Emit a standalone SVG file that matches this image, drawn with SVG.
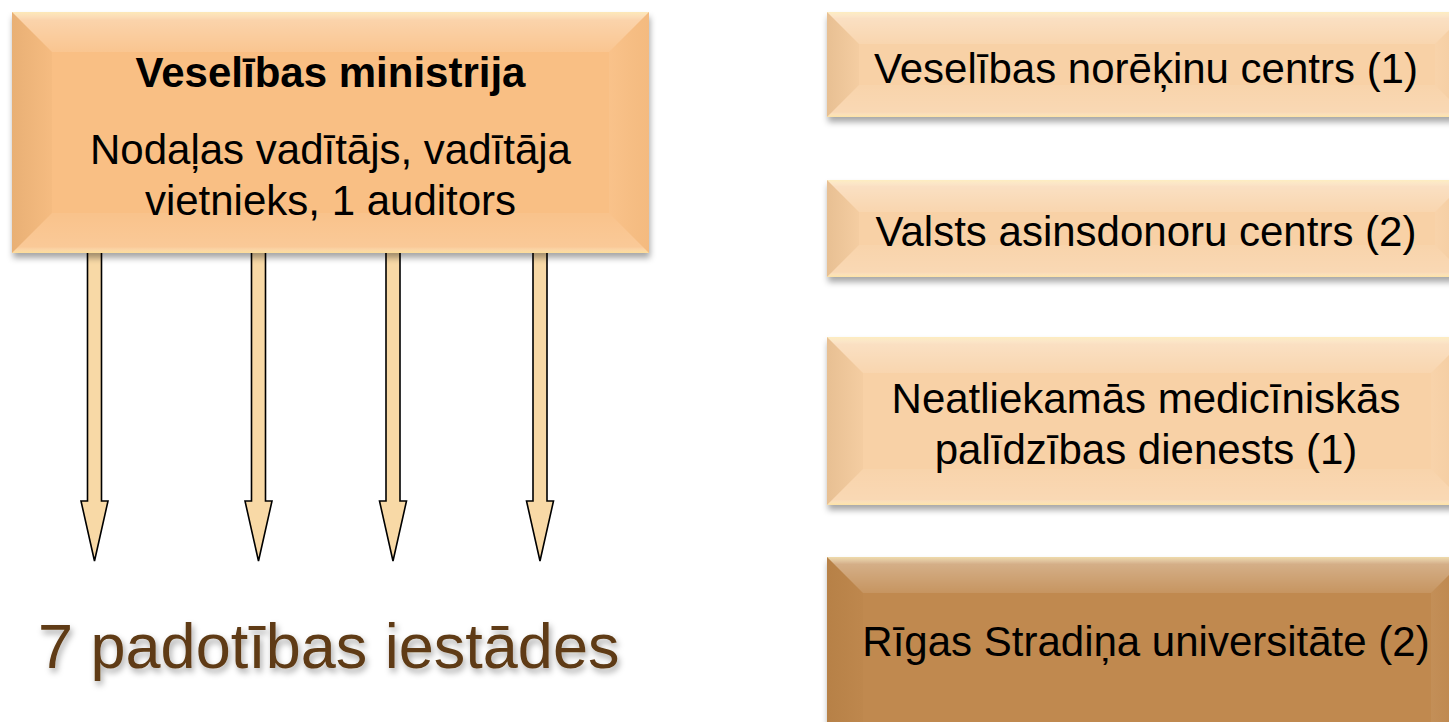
<svg xmlns="http://www.w3.org/2000/svg" width="1449" height="722" viewBox="0 0 1449 722">
<defs>
<filter id="sh" x="-10%" y="-10%" width="120%" height="130%">
<feDropShadow dx="1" dy="5" stdDeviation="3" flood-color="#000" flood-opacity="0.35"/>
</filter>
<filter id="tsh" x="-5%" y="-20%" width="110%" height="150%">
<feDropShadow dx="2" dy="4" stdDeviation="3" flood-color="#000" flood-opacity="0.35"/>
</filter>
<linearGradient id="gTop" x1="0" y1="0" x2="0" y2="1">
<stop offset="0" stop-color="#fff6c8" stop-opacity="0.75"/>
<stop offset="0.2" stop-color="#fff" stop-opacity="0.32"/>
<stop offset="1" stop-color="#fff" stop-opacity="0.1"/>
</linearGradient>
<linearGradient id="gLeft" x1="0" y1="0" x2="1" y2="0">
<stop offset="0" stop-color="#7a4a10" stop-opacity="0.13"/>
<stop offset="1" stop-color="#7a4a10" stop-opacity="0.03"/>
</linearGradient>
<linearGradient id="gRight" x1="0" y1="0" x2="1" y2="0">
<stop offset="0" stop-color="#fff" stop-opacity="0.05"/>
<stop offset="1" stop-color="#7a4a10" stop-opacity="0.04"/>
</linearGradient>
<linearGradient id="gBot" x1="0" y1="0" x2="0" y2="1">
<stop offset="0" stop-color="#fff" stop-opacity="0.06"/>
<stop offset="0.85" stop-color="#fff" stop-opacity="0.16"/>
<stop offset="1" stop-color="#ffeaa0" stop-opacity="0.7"/>
</linearGradient>
</defs>
<style>
.t{font-family:"Liberation Sans",Arial,sans-serif;font-size:42px;fill:#000;text-anchor:middle}
.b{font-weight:bold}
.arrow{fill:#F8D9A6;stroke:#000;stroke-width:1.6;stroke-linejoin:miter}
.top{fill:url(#gTop)}
.left{fill:url(#gLeft)}
.right{fill:url(#gRight)}
.bot{fill:url(#gBot)}
.big{font-family:"Liberation Sans",Arial,sans-serif;font-size:63px;fill:#5E3B14}
</style>

<g id="connectors">
<polygon class="arrow" points="87.5,250 101.5,250 101.5,501 108,501 94.5,561 81,501 87.5,501"/>
<polygon class="arrow" points="251.5,250 265.5,250 265.5,501 272,501 258.5,561 245,501 251.5,501"/>
<polygon class="arrow" points="386,250 400,250 400,501 406.5,501 393,561 379.5,501 386,501"/>
<polygon class="arrow" points="533,250 547,250 547,501 553.5,501 540,561 526.5,501 533,501"/>
</g>

<g id="ministrija">
<rect x="12" y="12" width="637" height="241" fill="#F9BF84" filter="url(#sh)"/>
<polygon class="top" points="12,12 649,12 609,52 52,52"/>
<polygon class="left" points="12,12 52,52 52,213 12,253"/>
<polygon class="bot" points="12,253 52,213 609,213 649,253"/>
<polygon class="right" points="649,12 649,253 609,213 609,52"/>
<text class="t b" x="330.5" y="87">Veselības ministrija</text>
<text class="t" x="330.5" y="164">Nodaļas vadītājs, vadītāja</text>
<text class="t" x="330.5" y="215">vietnieks, 1 auditors</text>
</g>

<g id="padotibas">
<text class="big" x="38" y="668" filter="url(#tsh)">7 padotības iestādes</text>
</g>

<g id="vnc">
<rect x="827" y="12" width="640" height="105" fill="#F8D1A6" filter="url(#sh)"/>
<polygon class="top" points="827,12 1467,12 1435,44 859,44"/>
<polygon class="left" points="827,12 859,44 859,85 827,117"/>
<polygon class="bot" points="827,117 859,85 1435,85 1467,117"/>
<polygon class="right" points="1467,12 1467,117 1435,85 1435,44"/>
<text class="t" x="1146" y="83">Veselības norēķinu centrs (1)</text>
</g>

<g id="vadc">
<rect x="827" y="180" width="640" height="97" fill="#F8D1A6" filter="url(#sh)"/>
<polygon class="top" points="827,180 1467,180 1435,212 859,212"/>
<polygon class="left" points="827,180 859,212 859,245 827,277"/>
<polygon class="bot" points="827,277 859,245 1435,245 1467,277"/>
<polygon class="right" points="1467,180 1467,277 1435,245 1435,212"/>
<text class="t" x="1146" y="246">Valsts asinsdonoru centrs (2)</text>
</g>

<g id="nmpd">
<rect x="827" y="337" width="640" height="168" fill="#F8D1A6" filter="url(#sh)"/>
<polygon class="top" points="827,337 1467,337 1431,373 863,373"/>
<polygon class="left" points="827,337 863,373 863,469 827,505"/>
<polygon class="bot" points="827,505 863,469 1431,469 1467,505"/>
<polygon class="right" points="1467,337 1467,505 1431,469 1431,373"/>
<text class="t" x="1146" y="413">Neatliekamās medicīniskās</text>
<text class="t" x="1146" y="464">palīdzības dienests (1)</text>
</g>

<g id="rsu">
<rect x="827" y="557" width="640" height="213" fill="#C0894F" filter="url(#sh)"/>
<polygon class="top" points="827,557 1467,557 1431,593 863,593"/>
<polygon class="left" points="827,557 863,593 863,734 827,770"/>
<polygon class="bot" points="827,770 863,734 1431,734 1467,770"/>
<polygon class="right" points="1467,557 1467,770 1431,734 1431,593"/>
<text class="t" x="1146" y="656">Rīgas Stradiņa universitāte (2)</text>
</g>
</svg>
